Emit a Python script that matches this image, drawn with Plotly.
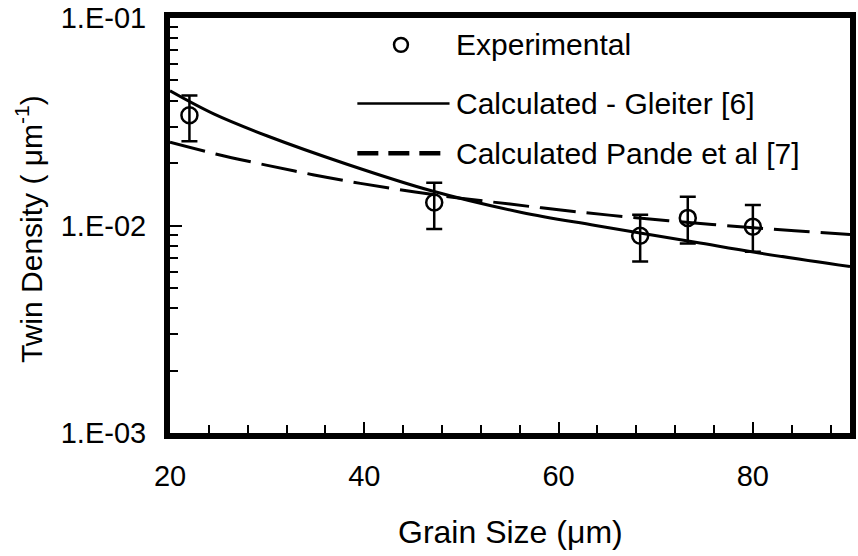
import plotly.graph_objects as go

# ---- data ----
exp_x = [22.0, 47.2, 68.4, 73.3, 80.0]
exp_y = [0.0340, 0.0129, 0.00893, 0.01088, 0.00986]
exp_err_plus = [0.0083, 0.00318, 0.00233, 0.00286, 0.00270]
exp_err_minus = [0.0085, 0.00328, 0.00222, 0.00270, 0.00238]

gleiter_x = [20.0, 24.5, 30.1, 38.3, 47.0, 56.2, 63.8, 74.1, 80.2, 90.0]
gleiter_y = [0.04457, 0.03451, 0.02692, 0.01968, 0.01466, 0.01156, 0.0100, 0.0083, 0.00743, 0.00634]

pande_x = [20.0, 24.7, 29.9, 34.7, 39.6, 46.9, 55.0, 60.0, 65.2, 75.8, 84.3, 90.0]
pande_y = [0.02518, 0.02213, 0.01954, 0.01758, 0.01596, 0.01413, 0.01268, 0.01191, 0.01122, 0.01012, 0.00944, 0.00904]

x_ticks = [20, 40, 60, 80]
y_ticks = [1e-3, 1e-2, 1e-1]
y_ticktext = ["1.E-03", "1.E-02", "1.E-01"]
y_minor = [m * d for d in (1e-3, 1e-2) for m in range(2, 10)]

legend_labels = ["Experimental", "Calculated - Gleiter [6]", "Calculated Pande et al [7]"]

# ---- layout geometry (pixels) ----
W, H = 858, 556
L, R, T, B = 170, 2, 16, 122.5
PW, PH = W - L - R, H - T - B

def px(x):
    return (x - L) / PW

def py(y):
    return (H - B - y) / PH

FONT = "Liberation Sans, Arial, Helvetica, sans-serif"

fig = go.Figure()

fig.add_trace(go.Scatter(
    x=gleiter_x, y=gleiter_y, mode="lines", line_shape="spline",
    line=dict(color="black", width=3), showlegend=False))
fig.add_trace(go.Scatter(
    x=pande_x, y=pande_y, mode="lines", line_shape="spline",
    line=dict(color="black", width=3, dash="36px,11px"), showlegend=False))
fig.add_trace(go.Scatter(
    x=exp_x, y=exp_y, mode="markers",
    marker=dict(symbol="circle-open", size=16, color="black", line=dict(width=2.5)),
    error_y=dict(type="data", symmetric=False, array=exp_err_plus, arrayminus=exp_err_minus,
                 color="black", thickness=2.5, width=8),
    showlegend=False))

# ---- manual legend ----
shapes = [
    dict(type="circle", xref="paper", yref="paper",
         x0=px(403 - 7), x1=px(403 + 7), y0=py(43 + 7), y1=py(43 - 7),
         line=dict(color="black", width=2.5)),
    dict(type="line", xref="paper", yref="paper",
         x0=px(359), x1=px(452), y0=py(102), y1=py(102),
         line=dict(color="black", width=2.5)),
    dict(type="line", xref="paper", yref="paper",
         x0=px(359), x1=px(443), y0=py(152), y1=py(152),
         line=dict(color="black", width=4.5, dash="21px,10px")),
]
annotations = []
for lab, yy in zip(legend_labels, [43, 102, 152]):
    annotations.append(dict(text=lab, xref="paper", yref="paper", x=px(457), y=py(yy),
                            xanchor="left", yanchor="middle", showarrow=False,
                            font=dict(family=FONT, size=30, color="black")))
# axis titles
annotations.append(dict(text="Grain Size (\u03bcm)", xref="paper", yref="paper",
                        x=px(513), y=py(533), xanchor="center", yanchor="middle",
                        showarrow=False, font=dict(family=FONT, size=32, color="black")))
annotations.append(dict(text="Twin Density ( \u03bcm<sup>-1</sup>)", xref="paper", yref="paper",
                        x=px(28), y=py(228), xanchor="center", yanchor="middle", textangle=-90,
                        showarrow=False, font=dict(family=FONT, size=30, color="black")))

fig.update_layout(
    width=W, height=H,
    margin=dict(l=L, r=R, t=T, b=B, pad=0),
    paper_bgcolor="white", plot_bgcolor="white",
    font=dict(family=FONT, size=29, color="black"),
    shapes=shapes, annotations=annotations,
    xaxis=dict(range=[20, 90], tickvals=x_ticks, ticks="inside", ticklen=11, tickwidth=2,
               tickcolor="black", showline=True, linewidth=6, linecolor="black", mirror=True,
               showgrid=False, zeroline=False, ticklabelstandoff=12, ticklabeloverflow="allow",
               minor=dict(dtick=4, tick0=20, ticks="inside", ticklen=8, tickwidth=2,
                          tickcolor="black", showgrid=False)),
    yaxis=dict(type="log", range=[-3, -1], tickvals=y_ticks, ticktext=y_ticktext,
               ticks="inside", ticklen=12, tickwidth=2, tickcolor="black",
               showline=True, linewidth=6, linecolor="black", mirror=True,
               showgrid=False, zeroline=False, ticklabelstandoff=12, ticklabeloverflow="allow",
               minor=dict(tickvals=y_minor, ticks="inside", ticklen=8, tickwidth=2,
                          tickcolor="black", showgrid=False)),
)

fig.write_html("out.html")
